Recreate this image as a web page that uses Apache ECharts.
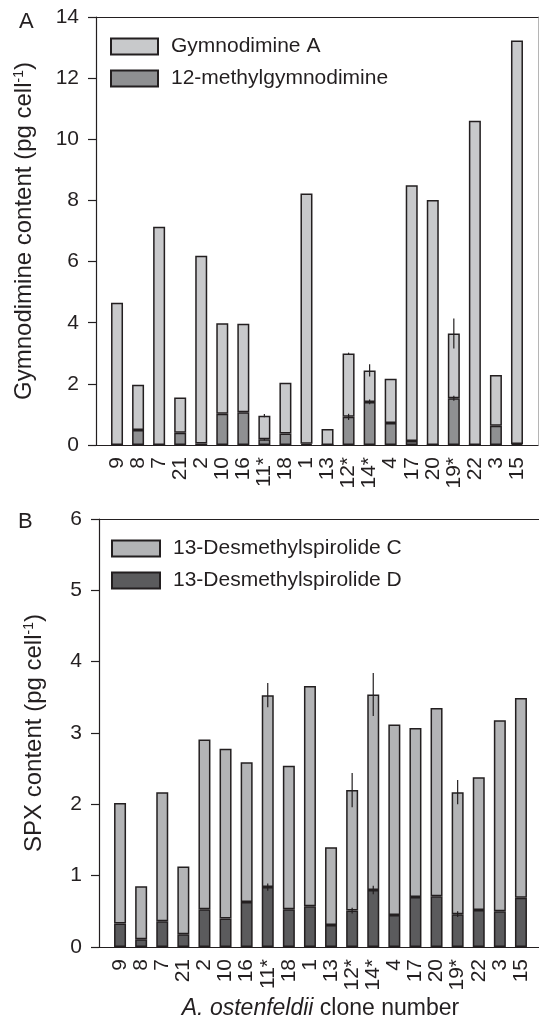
<!DOCTYPE html>
<html>
<head>
<meta charset="utf-8">
<script src="https://cdn.jsdelivr.net/npm/echarts@6/dist/echarts.min.js"></script>
<style>
  html, body { margin: 0; padding: 0; background: #fff; }
  #main { width: 539px; height: 1025px; }
</style>
</head>
<body>
<div id="main"></div>
<script>
// clone numbers along the x axis (same order in both panels)
var clones = ['9', '8', '7', '21', '2', '10', '16', '11*', '18', '1', '13', '12*', '14*', '4', '17', '20', '19*', '22', '3', '15'];

// panel A, pg cell-1
var gymA = [4.65, 1.48, 7.14, 1.15, 6.14, 2.96, 2.90, 0.77, 1.66, 8.19, 0.52, 2.07, 1.03, 1.45, 8.37, 8.01, 2.12, 10.61, 1.66, 13.20];
var methylGym = [0, 0.49, 0, 0.40, 0.05, 1.02, 1.07, 0.19, 0.38, 0.04, 0, 0.92, 1.41, 0.72, 0.13, 0, 1.53, 0, 0.63, 0.03];
var gymAErr = [0, 0, 0, 0, 0, 0, 0, 0.05, 0, 0, 0, 0.03, 0.20, 0, 0, 0, 0.49, 0, 0, 0];
var methylErr = [0, 0, 0, 0, 0, 0, 0, 0.04, 0, 0, 0, 0.10, 0.08, 0, 0, 0, 0.08, 0, 0, 0];

// panel B, pg cell-1
var spxC = [1.69, 0.74, 1.81, 0.95, 2.38, 2.38, 1.96, 2.69, 2.01, 3.09, 1.09, 1.69, 2.74, 2.67, 2.37, 2.64, 1.71, 1.86, 2.68, 2.80];
var spxD = [0.33, 0.11, 0.36, 0.18, 0.53, 0.40, 0.63, 0.84, 0.53, 0.57, 0.31, 0.51, 0.80, 0.45, 0.70, 0.71, 0.46, 0.52, 0.50, 0.69];
var spxCErr = [0, 0, 0, 0, 0, 0, 0, 0.17, 0, 0, 0, 0.24, 0.30, 0, 0, 0, 0.17, 0, 0, 0];
var spxDErr = [0, 0, 0, 0, 0, 0, 0, 0.05, 0, 0, 0, 0.04, 0.06, 0, 0, 0, 0.04, 0, 0, 0];

var ink = '#231f20';
var font = 'Liberation Sans';
var fs = 21;

// error bar sits on top of its stack segment
function errData(bottom, seg, err) {
  return seg.map(function (v, i) { return [i, (bottom ? bottom[i] : 0) + v, err[i]]; });
}
function errRender(params, api) {
  var e = api.value(2);
  if (!e) return null;
  var p1 = api.coord([api.value(0), api.value(1) - e]);
  var p2 = api.coord([api.value(0), api.value(1) + e]);
  return {
    type: 'line',
    shape: { x1: p1[0], y1: p1[1], x2: p2[0], y2: p2[1] },
    style: { stroke: ink, lineWidth: 1.2 }
  };
}

var noLine = { show: false };

// frame grids carry the axis lines, bar grids carry the categories
function frameX(gi, pos) {
  return {
    type: 'value', gridIndex: gi, min: 0, max: 1, position: pos,
    axisLine: { onZero: false, lineStyle: { color: ink, width: 1.2 } },
    axisTick: noLine, axisLabel: noLine, splitLine: noLine
  };
}
function catX(gi, withName) {
  var ax = {
    type: 'category', gridIndex: gi, data: clones,
    axisLine: noLine,
    axisTick: { alignWithLabel: true, length: 8, lineStyle: { color: ink, width: 1.2 } },
    axisLabel: { interval: 0, rotate: 90, margin: 12, fontSize: fs, fontFamily: font, color: ink }
  };
  if (withName) {
    ax.name = '{i|A. ostenfeldii}{n| clone number}';
    ax.nameLocation = 'middle';
    ax.nameGap = 50;
    ax.nameTextStyle = {
      rich: {
        i: { fontSize: 23, fontFamily: font, fontStyle: 'italic', color: ink },
        n: { fontSize: 23, fontFamily: font, color: ink }
      }
    };
  }
  return ax;
}
function frameY(gi, max, interval, label, gap) {
  return {
    type: 'value', gridIndex: gi, min: 0, max: max, interval: interval,
    name: '{n|' + label + ' (pg cell}{s|-1}{n|)}',
    nameLocation: 'middle', nameGap: gap,
    nameTextStyle: {
      rich: {
        n: { fontSize: 24, fontFamily: font, color: ink },
        s: { fontSize: 14, fontFamily: font, color: ink, padding: [0, 0, 10, 0] }
      }
    },
    axisLine: { show: true, onZero: false, lineStyle: { color: ink, width: 1.2 } },
    axisTick: { show: true, length: 8, lineStyle: { color: ink, width: 1.2 } },
    axisLabel: { fontSize: fs, fontFamily: font, color: ink, margin: 17 },
    splitLine: noLine
  };
}
function hiddenY(gi, max) {
  return { type: 'value', gridIndex: gi, min: 0, max: max, show: false, splitLine: noLine };
}

function barSeries(name, xi, yi, vals, stack, color) {
  return {
    name: name, type: 'bar', xAxisIndex: xi, yAxisIndex: yi,
    stack: stack, barWidth: 12, data: vals,
    itemStyle: { color: color, borderColor: ink, borderWidth: 1.5 }
  };
}
function errSeries(xi, yi, data) {
  return {
    type: 'custom', xAxisIndex: xi, yAxisIndex: yi, z: 10,
    renderItem: errRender, data: data, silent: true
  };
}

var legendText = { fontSize: fs, fontFamily: font, color: ink, lineHeight: 16, padding: [0, 0, 0, 8] };

var chart = echarts.init(document.getElementById('main'));
chart.setOption({
  animation: false,
  textStyle: { fontFamily: font },
  title: [
    { text: 'A', left: 19, top: 11, padding: 0, textStyle: { fontSize: 22, fontWeight: 'normal', color: ink, fontFamily: font } },
    { text: 'B', left: 18, top: 511, padding: 0, textStyle: { fontSize: 22, fontWeight: 'normal', color: ink, fontFamily: font } }
  ],
  legend: [
    {
      orient: 'vertical', left: 110, top: 36, padding: 0, icon: 'rect',
      itemWidth: 47, itemHeight: 16, itemGap: 11,
      data: ['Gymnodimine A', '12-methylgymnodimine'],
      textStyle: legendText
    },
    {
      orient: 'vertical', left: 111, top: 538, padding: 0, icon: 'rect',
      itemWidth: 48, itemHeight: 16, itemGap: 11,
      data: ['13-Desmethylspirolide C', '13-Desmethylspirolide D'],
      textStyle: legendText
    }
  ],
  grid: [
    { left: 96, right: 1, top: 17, bottom: 580 },      // A frame
    { left: 106.5, right: 11.5, top: 17, bottom: 580 }, // A bars
    { left: 99, right: -3, top: 519, bottom: 78 },      // B frame
    { left: 109.5, right: 7.5, top: 519, bottom: 78 }   // B bars
  ],
  xAxis: [
    frameX(0, 'bottom'), frameX(0, 'top'),
    catX(1, false),
    frameX(2, 'bottom'), frameX(2, 'top'),
    catX(3, true)
  ],
  yAxis: [
    frameY(0, 14, 2, 'Gymnodimine content', 60),
    {
      type: 'value', gridIndex: 0, min: 0, max: 14, position: 'right',
      axisLine: { show: true, onZero: false, lineStyle: { color: '#b5b5b5', width: 1 } },
      axisTick: noLine, axisLabel: noLine, splitLine: noLine
    },
    hiddenY(1, 14),
    frameY(2, 6, 1, 'SPX content', 53),
    hiddenY(3, 6)
  ],
  series: [
    barSeries('12-methylgymnodimine', 2, 2, methylGym, 'gym', '#8f9092'),
    barSeries('Gymnodimine A', 2, 2, gymA, 'gym', '#c8c9cb'),
    errSeries(2, 2, errData(null, methylGym, methylErr)),
    errSeries(2, 2, errData(methylGym, gymA, gymAErr)),
    barSeries('13-Desmethylspirolide D', 5, 4, spxD, 'spx', '#5b5b5d'),
    barSeries('13-Desmethylspirolide C', 5, 4, spxC, 'spx', '#b3b4b6'),
    errSeries(5, 4, errData(null, spxD, spxDErr)),
    errSeries(5, 4, errData(spxD, spxC, spxCErr))
  ]
});
</script>
</body>
</html>
